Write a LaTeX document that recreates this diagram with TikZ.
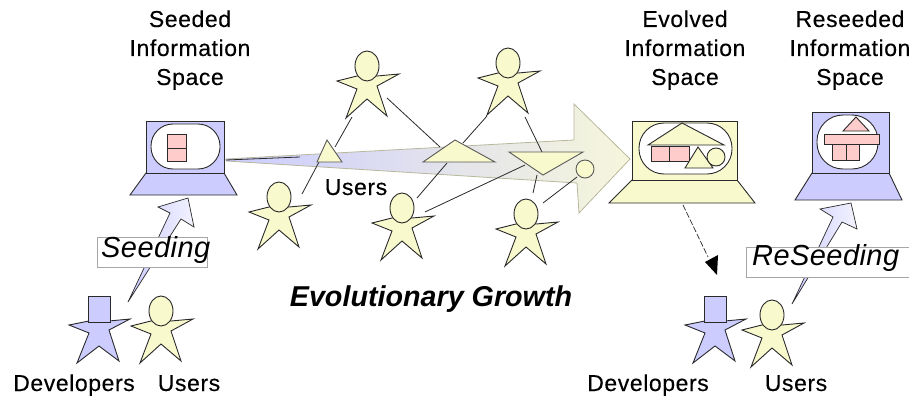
\documentclass[tikz,border=0pt]{standalone}
\usepackage{fontspec}
\setmainfont{Liberation Sans}
\usetikzlibrary{arrows.meta}
\definecolor{userfill}{HTML}{F9F9CE}
\definecolor{devfill}{HTML}{CCCCFF}
\definecolor{pinkfill}{HTML}{FFCCCC}
\definecolor{ink}{HTML}{2A2A2A}
\definecolor{arrowend}{HTML}{F6F6DC}
\definecolor{arrowedge}{HTML}{B8B89C}
\newfontfamily\labelfont[LetterSpace=2.5,FakeBold=0.25]{Liberation Sans}
\tikzset{
  x=1pt,y=-1pt,
  outline/.style={draw=ink,line width=0.9pt,line join=miter},
  lbl/.style={anchor=base,inner sep=0pt,font=\fontsize{23}{27}\labelfont},
  tag/.style={draw=black!35,fill=white,line width=0.7pt},
  tagtext/.style={anchor=base west,inner sep=0pt,font=\fontsize{29}{32}\selectfont\itshape\addfontfeatures{LetterSpace=1.5},text=black},
  link/.style={draw=ink,line width=0.8pt},
  userfig/.pic={
    \path[outline,fill=userfill] (-30,15)--(-10,10)--(10,10)--(32,8)--(10,20)--(20,50)--(0,33)--(-21,52)--(-10,23)--cycle;
    \path[outline,fill=userfill] (0,0) ellipse [x radius=12,y radius=15];
  },
  devfig/.pic={
    \path[outline,fill=devfill] (-30,15)--(-10,11)--(10,11)--(31,9)--(10,20)--(20,51)--(0,36)--(-22,53)--(-10,23)--cycle;
    \path[outline,fill=devfill] (-11,-14) rectangle (11,12);
  },
}
\begin{document}
\begin{tikzpicture}
\useasboundingbox (0,0) rectangle (909,396);
\fill[white] (0,0) rectangle (909,396);

% headings
\foreach \cx/\t/\nm in {190/Seeded/a,685/Evolved/b,850/Reseeded/c}{
  \node[lbl] (head\nm) at (\cx,27) {\t};
  \node[lbl] (info\nm) at (\cx,56) {Information};
  \node[lbl] (space\nm) at (\cx,85) {Space};
}
\node[lbl] (devL) at (74,391) {Developers};
\node[lbl] (usrL) at (189,391) {Users};
\node[lbl] (devR) at (648,391) {Developers};
\node[lbl] (usrR) at (796,391) {Users};
\node[lbl] (usrM) at (356,195) {Users};
\node[anchor=base,inner sep=0pt,font=\fontsize{28.7}{32}\selectfont\bfseries\itshape] (growth) at (431,306) {Evolutionary Growth};

% big evolution arrow
\path[draw=arrowedge,line width=0.8pt,left color=devfill,right color=arrowend]
  (226,159)--(574,140)--(574,104)--(630,159)--(579,213)--(577,183)--(226,161)--cycle;
\draw[draw=ink,line width=0.8pt] (226,160)--(300,157);

% seeded laptop
\path[outline,fill=devfill] (146,173)--(224,173)--(237,195)--(130,195)--cycle;
\path[outline,fill=devfill] (146,121) rectangle (224,173);
\path[outline,fill=white,rounded corners=22pt] (151,124) rectangle (220,169);
\path[outline,fill=pinkfill] (167,134) rectangle (186,148);
\path[outline,fill=pinkfill] (167,148) rectangle (186,161);

% evolved laptop
\path[outline,fill=userfill] (632,180)--(737,180)--(755,203)--(609,203)--cycle;
\path[outline,fill=userfill] (632,121) rectangle (737,180);
\path[outline,fill=white,rounded corners=25pt] (639,123) rectangle (732,174);
\path[outline,fill=userfill] (682,123)--(724,145)--(648,145)--cycle;
\path[outline,fill=pinkfill] (651,146) rectangle (669,161);
\path[outline,fill=pinkfill] (669,146) rectangle (689,161);
\path[outline,fill=userfill] (698,147)--(713,168)--(685,168)--cycle;
\path[outline,fill=userfill] (716,157) circle [radius=9];

% reseeded laptop
\path[outline,fill=devfill] (812,173)--(889,173)--(902,200)--(795,200)--cycle;
\path[outline,fill=devfill] (812,112) rectangle (889,173);
\path[outline,fill=white,rounded corners=26pt] (817,115) rectangle (878,169);
\path[outline,fill=pinkfill] (856,117)--(869,131)--(843,131)--cycle;
\path[outline,fill=pinkfill] (832,144) rectangle (846,160);
\path[outline,fill=pinkfill] (846,144) rectangle (859,160);
\path[outline,fill=pinkfill] (824,134) rectangle (879,144);

% link ends
\coordinate (u1a) at (352,117); \coordinate (t1a) at (335,147);
\coordinate (u1b) at (387,98);  \coordinate (t2a) at (440,147);
\coordinate (u2a) at (487,116); \coordinate (t2b) at (463,143);
\coordinate (u2b) at (525,117); \coordinate (t3a) at (542,152);
\coordinate (u3a) at (302,194); \coordinate (t1b) at (319,162);
\coordinate (u4a) at (417,198); \coordinate (t2c) at (447,163);
\coordinate (u4b) at (425,212); \coordinate (t3b) at (525,165);
\coordinate (u5a) at (533,193); \coordinate (t3c) at (537,175);
\coordinate (u5b) at (543,203); \coordinate (c1a) at (577,177);
\draw[link] (u1a)--(t1a);
\draw[link] (u1b)--(t2a);
\draw[link] (u2a)--(t2b);
\draw[link] (u2b)--(t3a);
\draw[link] (u3a)--(t1b);
\draw[link] (u4a)--(t2c);
\draw[link] (u4b)--(t3b);
\draw[link] (u5a)--(t3c);
\draw[link] (u5b)--(c1a);

% shapes on the arrow
\path[outline,draw=black!65,fill=userfill] (327,140)--(342,162)--(317,162)--cycle;
\path[outline,draw=black!65,fill=userfill] (455,140)--(495,162)--(423,162)--cycle;
\path[outline,draw=black!65,fill=userfill] (509,152)--(583,152)--(543,175)--cycle;
\path[outline,draw=black!65,fill=userfill] (585,169) circle [radius=9];

% users in the growth phase
\pic (u1) at (367,66) {userfig};
\pic (u2) at (508,63) {userfig};
\pic (u3) at (279,197) {userfig};
\pic (u4) at (402,208) {userfig};
\pic (u5) at (526,214) {userfig};

% bottom figures
\pic (dl) at (99,310) {devfig};
\pic (ul) at (161,311) {userfig};
\pic (dr) at (715,310) {devfig};
\pic (ur) at (772,315) {userfig};

% seeding arrow
\coordinate (seedTail) at (128,302);
\path[draw=ink,line width=0.7pt,left color=devfill,right color=devfill!25]
  (seedTail)--(170,213)--(158,207)--(188,198)--(194,227)--(181,219)--cycle;
\node[tag,minimum width=110pt,minimum height=30pt,inner sep=0pt] (seedbox) at (152.5,252) {};
\node[tagtext] (seedtxt) at (101,257) {Seeding};

% reseeding arrow
\coordinate (reseedTail) at (792,304);
\path[draw=ink,line width=0.7pt,left color=devfill,right color=devfill!25]
  (reseedTail)--(833,217)--(820,209)--(851,203)--(857,229)--(842,222)--cycle;
\node[tag,minimum width=163pt,minimum height=30pt,inner sep=0pt] (reseedbox) at (827.5,262) {};
\node[tagtext] (reseedtxt) at (752,265) {ReSeeding};

% evolved to developers
\coordinate (evoOut) at (683,205);
\coordinate (devIn) at (717,275);
\draw[draw=ink,line width=0.7pt,dash pattern=on 6pt off 2pt] (evoOut)--(708,257);
\path[fill=black] (705,262)--(718,255)--(devIn)--cycle;
\end{tikzpicture}
\end{document}
